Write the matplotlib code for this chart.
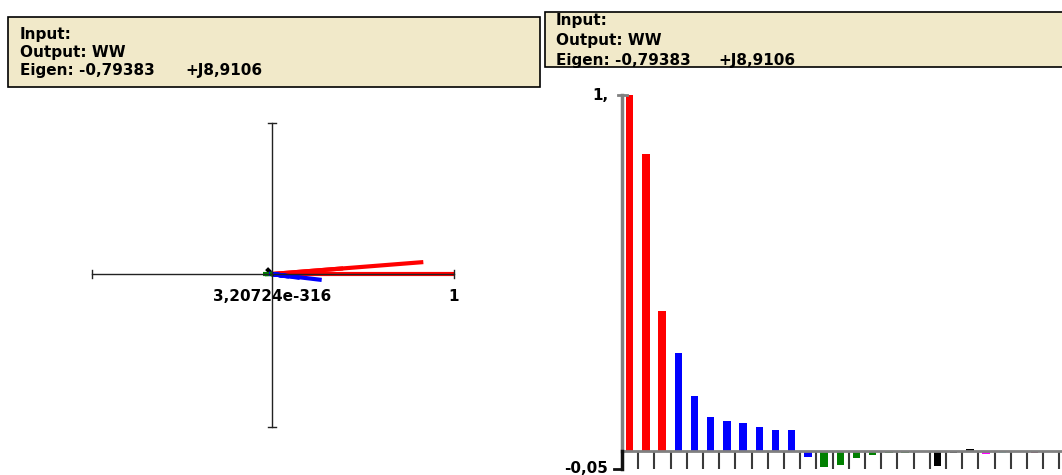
import numpy as np
import matplotlib
matplotlib.use("Agg")
import matplotlib.pyplot as plt
from matplotlib.patches import Rectangle

plt.rcParams['font.family'] = ['DejaVu Sans']

# ---------------- data ----------------
header_input = "Input:"
header_output = "Output: WW"
eigen_real = "Eigen: -0,79383"
eigen_imag = "+J8,9106"

# participation / eigenvector components (bar heights)
values = [1.0, 0.834, 0.392, 0.275, 0.154, 0.095, 0.083, 0.077, 0.067, 0.058,
          0.058, -0.017, -0.047, -0.039, -0.020, -0.011, -0.006, -0.006, -0.003,
          -0.042, -0.0065, 0.005, -0.008, -0.007, -0.005, -0.006, -0.004]
bar_colors = (['#FF0000'] * 3 + ['#0000FF'] * 9 + ['#008000'] * 7 +
              ['#000000'] * 3 + ['#FF00FF'] + ['#80F0E8'] * 2 + ['#800040'] * 2)
# direction (degrees) of each component in the phasor plot
angles_deg = [0, 4.5, 4.5, -6.8, -8, -9, -8, -7, -9, -8, -8, -6,
              0, 2, -3, 0, 0, 0, 0, -45, -40, 30, 0, 0, 0, 0, 0]
y_tick_labels = ["1,", "-0,05"]
y_tick_values = [1.0, -0.05]
phasor_labels = ["3,20724e-316", "1"]

# ---------------- figure ----------------
W, H = 1062, 475
fig = plt.figure(figsize=(W / 100, H / 100), dpi=100)
fig.patch.set_facecolor('white')


def fig_rect(x0, y0, x1, y1):
    """pixel box (top-left origin) -> figure fraction rect"""
    return [x0 / W, (H - y1) / H, (x1 - x0) / W, (y1 - y0) / H]


# overlay for header boxes (pixel coordinates)
ov = fig.add_axes([0, 0, 1, 1], zorder=5)
ov.set_xlim(0, W)
ov.set_ylim(H, 0)
ov.axis('off')
ov.patch.set_alpha(0)

beige = '#F1E9C9'
box_l = Rectangle((8, 17), 532, 70, facecolor=beige, edgecolor='black', lw=1.2)
ov.add_patch(box_l)
box_r = Rectangle((545, 12), 530, 55, facecolor=beige, edgecolor='black', lw=1.2)
ov.add_patch(box_r)

fs = 11
for (x0, ys, x_im, clip) in [(20, (34, 52, 71), 185, box_l), (556, (21, 41, 60), 718, box_r)]:
    for txt, y in zip([header_input, header_output, eigen_real], ys):
        t = ov.text(x0, y, txt, fontsize=fs, fontweight='bold', va='center', ha='left')
        t.set_clip_path(clip)
    t = ov.text(x_im, ys[2], eigen_imag, fontsize=fs, fontweight='bold', va='center', ha='left')
    t.set_clip_path(clip)

# ---------------- phasor plot (left) ----------------
ox, oy, sc = 272, 274, 182.0  # origin pixel and px per unit
px0, py0, px1, py1 = 60, 100, 500, 450
axp = fig.add_axes(fig_rect(px0, py0, px1, py1))
axp.set_xlim((px0 - ox) / sc, (px1 - ox) / sc)
axp.set_ylim((oy - py1) / sc, (oy - py0) / sc)
axp.axis('off')

xext = (-0.99, 1.0)
yext = (-0.84, 0.83)
cap = 0.022
vals = np.array(values)
ang = np.radians(angles_deg)
vx = vals * np.cos(ang)
vy = vals * np.sin(ang)
order = np.argsort(-np.abs(vals))
for i in order:
    axp.plot([0, vx[i]], [0, vy[i]], color=bar_colors[i], lw=3,
             solid_capstyle='butt', zorder=2)
axp.plot(xext, [0, 0], color='#222222', lw=1, zorder=3)
axp.plot([0, 0], yext, color='#222222', lw=1, zorder=3)
for xe in xext:
    axp.plot([xe, xe], [-cap, cap], color='#222222', lw=1, zorder=3)
for ye in yext:
    axp.plot([-cap, cap], [ye, ye], color='#222222', lw=1, zorder=3)
axp.text(0, -0.125, phasor_labels[0], fontsize=fs, fontweight='bold', ha='center', va='center')
axp.text(1.0, -0.125, phasor_labels[1], fontsize=fs, fontweight='bold', ha='center', va='center')

# ---------------- bar chart (right) ----------------
slot = 16.2
axb = fig.add_axes(fig_rect(622, 95, 1062, 468.5))
axb.set_xlim(0, 440 / slot)
axb.set_ylim(-0.05, 1.0)
axb.axis('off')
n = len(values)
axb.bar(np.arange(n) + 0.25, values, width=0.45, align='edge', color=bar_colors, zorder=2)
axb.axhline(0, color='#808080', lw=2, zorder=3)
axb.vlines(np.arange(1, n + 1), -0.05, 0, color='#3a3a3a', lw=1.5, zorder=1)
axb.plot([0, 0], [0, 1.0], color='#808080', lw=2.5, zorder=4, clip_on=False)
axb.plot([0, 0], [-0.05, 0], color='#111111', lw=2.5, zorder=4, clip_on=False)
axb.plot([-0.25, 0.3], [1.0, 1.0], color='#808080', lw=2, clip_on=False, zorder=4)
axb.plot([-0.5, 0], [-0.05, -0.05], color='#111111', lw=2, clip_on=False, zorder=4)
axb.text(-0.85, y_tick_values[0], y_tick_labels[0], fontsize=fs, fontweight='bold',
         ha='right', va='center')
axb.text(-0.85, y_tick_values[1], y_tick_labels[1], fontsize=fs, fontweight='bold',
         ha='right', va='center', clip_on=False)

fig.savefig('out.png', dpi=100)
